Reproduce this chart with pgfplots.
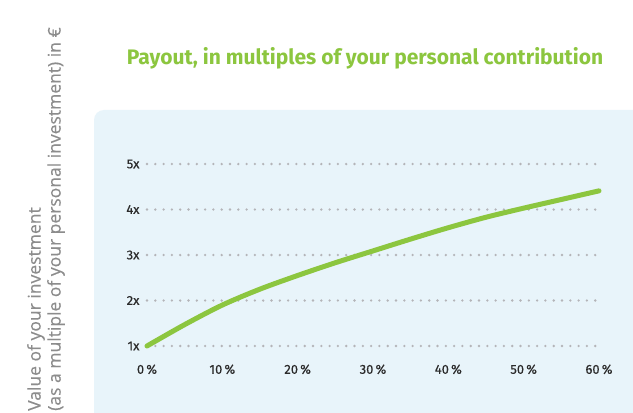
\documentclass[border=0pt]{standalone}
\usepackage{pgfplots}
\pgfplotsset{compat=1.18}
\usepackage{fontspec}
\setmainfont{Open Sans}
\newfontfamily\titlefont{Fira Sans}
\newfontfamily\tickfont[FakeBold=0.45]{Fira Sans}
\newfontfamily\labfont[FakeBold=0.3]{Open Sans}
\definecolor{lgreen}{HTML}{8CC63F}
\definecolor{panel}{HTML}{E8F4FA}
\definecolor{gridc}{HTML}{B4B4B8}
\definecolor{labgray}{HTML}{8C8C8C}
\definecolor{tickc}{HTML}{2B2B2B}
\begin{document}
\begin{tikzpicture}[x=1pt,y=1pt]
\useasboundingbox (0,0) rectangle (633,413);
\fill[white] (0,0) rectangle (633,413);
\fill[panel, rounded corners=10pt] (94,-20) -- (94,303) -- (650,303) -- (650,-20) -- cycle;
\node[anchor=center, text=lgreen, font=\titlefont\bfseries\fontsize{21}{24}\selectfont] at (365,355) {Payout, in multiples of your personal contribution};
\node[rotate=90, anchor=north west, align=left, inner sep=0pt, text=labgray, font=\labfont\fontsize{17.5}{20}\selectfont] at (27,2) {Value of your investment\\(as a multiple of your personal investment) in €};
\begin{axis}[
  at={(147pt,67pt)}, anchor=south west,
  scale only axis, width=452pt, height=182pt,
  xmin=0, xmax=60, ymin=1, ymax=5,
  clip=false,
  axis line style={draw=none},
  major tick length=0pt,
  xtick={0,10,...,60}, ytick={1,2,3,4,5},
  xticklabel={\pgfmathprintnumber{\tick}\,\%},
  yticklabel={\pgfmathprintnumber{\tick}x},
  /pgf/number format/assume math mode=true,
  tick label style={text=tickc, font=\tickfont\fontsize{13}{15}\selectfont},
  xticklabel style={yshift=-15pt},
  yticklabel style={xshift=-4pt},
  ymajorgrids,
  major grid style={gridc, line width=2.6pt, line cap=round, dash pattern=on 0pt off 8.3pt},
]
\addplot[lgreen, line width=5pt, line cap=round, smooth] coordinates {
(0,1.00) (5,1.47) (10,1.90) (15,2.25) (20,2.55) (25,2.83) (30,3.09) (35,3.35) (40,3.60) (45,3.83) (50,4.03) (55,4.22) (60,4.41)
};
\end{axis}
\end{tikzpicture}
\end{document}
